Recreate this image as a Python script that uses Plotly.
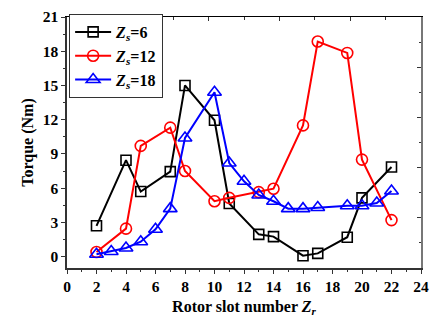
import plotly.graph_objects as go

x6 = [2, 4, 5, 7, 8, 10, 11, 13, 14, 16, 17, 19, 20, 22]
y6 = [2.7, 8.45, 5.7, 7.45, 15.0, 11.95, 4.65, 1.95, 1.75, 0.08, 0.28, 1.7, 5.15, 7.85]

x12 = [2, 4, 5, 7, 8, 10, 11, 13, 14, 16, 17, 19, 20, 22]
y12 = [0.4, 2.45, 9.7, 11.3, 7.5, 4.85, 5.15, 5.65, 5.95, 11.5, 18.85, 17.85, 8.5, 3.2]

x18 = [2, 3, 4, 5, 6, 7, 8, 10, 11, 12, 13, 14, 15, 16, 17, 19, 20, 21, 22]
y18 = [0.2, 0.45, 0.75, 1.3, 2.4, 4.2, 10.4, 14.4, 8.2, 6.6, 5.4, 4.85, 4.2, 4.2, 4.3, 4.45, 4.45, 4.7, 5.75]

names = ["<i>Z</i><sub><i>s</i></sub>=6", "<i>Z</i><sub><i>s</i></sub>=12", "<i>Z</i><sub><i>s</i></sub>=18"]

FONT = "Liberation Serif"

fig = go.Figure()
fig.add_trace(go.Scatter(x=x6, y=y6, name=names[0], mode="lines+markers",
                         line=dict(color="black", width=2),
                         marker=dict(symbol="square-open", size=10, color="black", line=dict(width=1.6))))
fig.add_trace(go.Scatter(x=x12, y=y12, name=names[1], mode="lines+markers",
                         line=dict(color="#ff0000", width=2),
                         marker=dict(symbol="circle-open", size=11, color="#ff0000", line=dict(width=1.6))))
fig.add_trace(go.Scatter(x=x18, y=y18, name=names[2], mode="lines+markers",
                         line=dict(color="#0000ff", width=2),
                         marker=dict(symbol="triangle-up-open", size=12, color="#0000ff", line=dict(width=1.6))))
# dummy trace to activate the mirrored top/right axes
fig.add_trace(go.Scatter(x=[None], y=[None], xaxis="x2", yaxis="y2", showlegend=False, hoverinfo="skip"))

tickfont = dict(family=FONT, size=15.5, color="black", weight="bold")
titlefont = dict(family=FONT, size=16, color="black", weight="bold")

fig.update_layout(
    width=437, height=326,
    margin=dict(l=67, r=14, t=8, b=58),
    paper_bgcolor="white", plot_bgcolor="white",
    font=dict(family=FONT, color="black"),
    xaxis=dict(range=[0, 24], tick0=0, dtick=2, ticks="outside", ticklen=4, tickwidth=1,
               tickcolor="#333", showline=True, linecolor="#333", linewidth=1.5,
               showgrid=False, zeroline=False, tickfont=tickfont, ticklabeloverflow="allow",
               minor=dict(dtick=1, ticks="outside", ticklen=2.5, tickcolor="#333"),
               title=dict(text="Rotor slot number <i>Z</i><sub><i>r</i></sub>",
                          font=titlefont, standoff=6)),
    yaxis=dict(range=[-1, 21], tick0=0, dtick=3, ticks="outside", ticklen=4, tickwidth=1,
               tickcolor="#333", showline=True, linecolor="#333", linewidth=1.5,
               showgrid=False, zeroline=False, tickfont=tickfont, ticklabeloverflow="allow",
               minor=dict(dtick=1.5, tick0=0, ticks="outside", ticklen=2.5, tickcolor="#333"),
               title=dict(text="Torque (Nm)", font=titlefont, standoff=5)),
    xaxis2=dict(overlaying="x", side="top", range=[0, 24], tick0=0, dtick=4.8,
                ticks="inside", ticklen=4, tickcolor="#333", showticklabels=False,
                showline=True, linecolor="black", linewidth=1.2, showgrid=False, zeroline=False,
                minor=dict(dtick=2.4, ticks="inside", ticklen=2.5, tickcolor="#333")),
    yaxis2=dict(overlaying="y", side="right", range=[-1, 21], tick0=-1, dtick=4.4,
                ticks="inside", ticklen=4, tickcolor="#333", showticklabels=False,
                showline=True, linecolor="#777", linewidth=2, showgrid=False, zeroline=False,
                minor=dict(dtick=2.2, tick0=-1, ticks="inside", ticklen=2.5, tickcolor="#333")),
    legend=dict(x=0.006, y=1.012, xanchor="left", yanchor="top",
                bordercolor="#333", borderwidth=1, bgcolor="white",
                font=dict(family=FONT, size=16, color="black", weight="bold"),
                tracegroupgap=0, itemwidth=36),
    showlegend=True,
)

fig.write_html("out.html")
